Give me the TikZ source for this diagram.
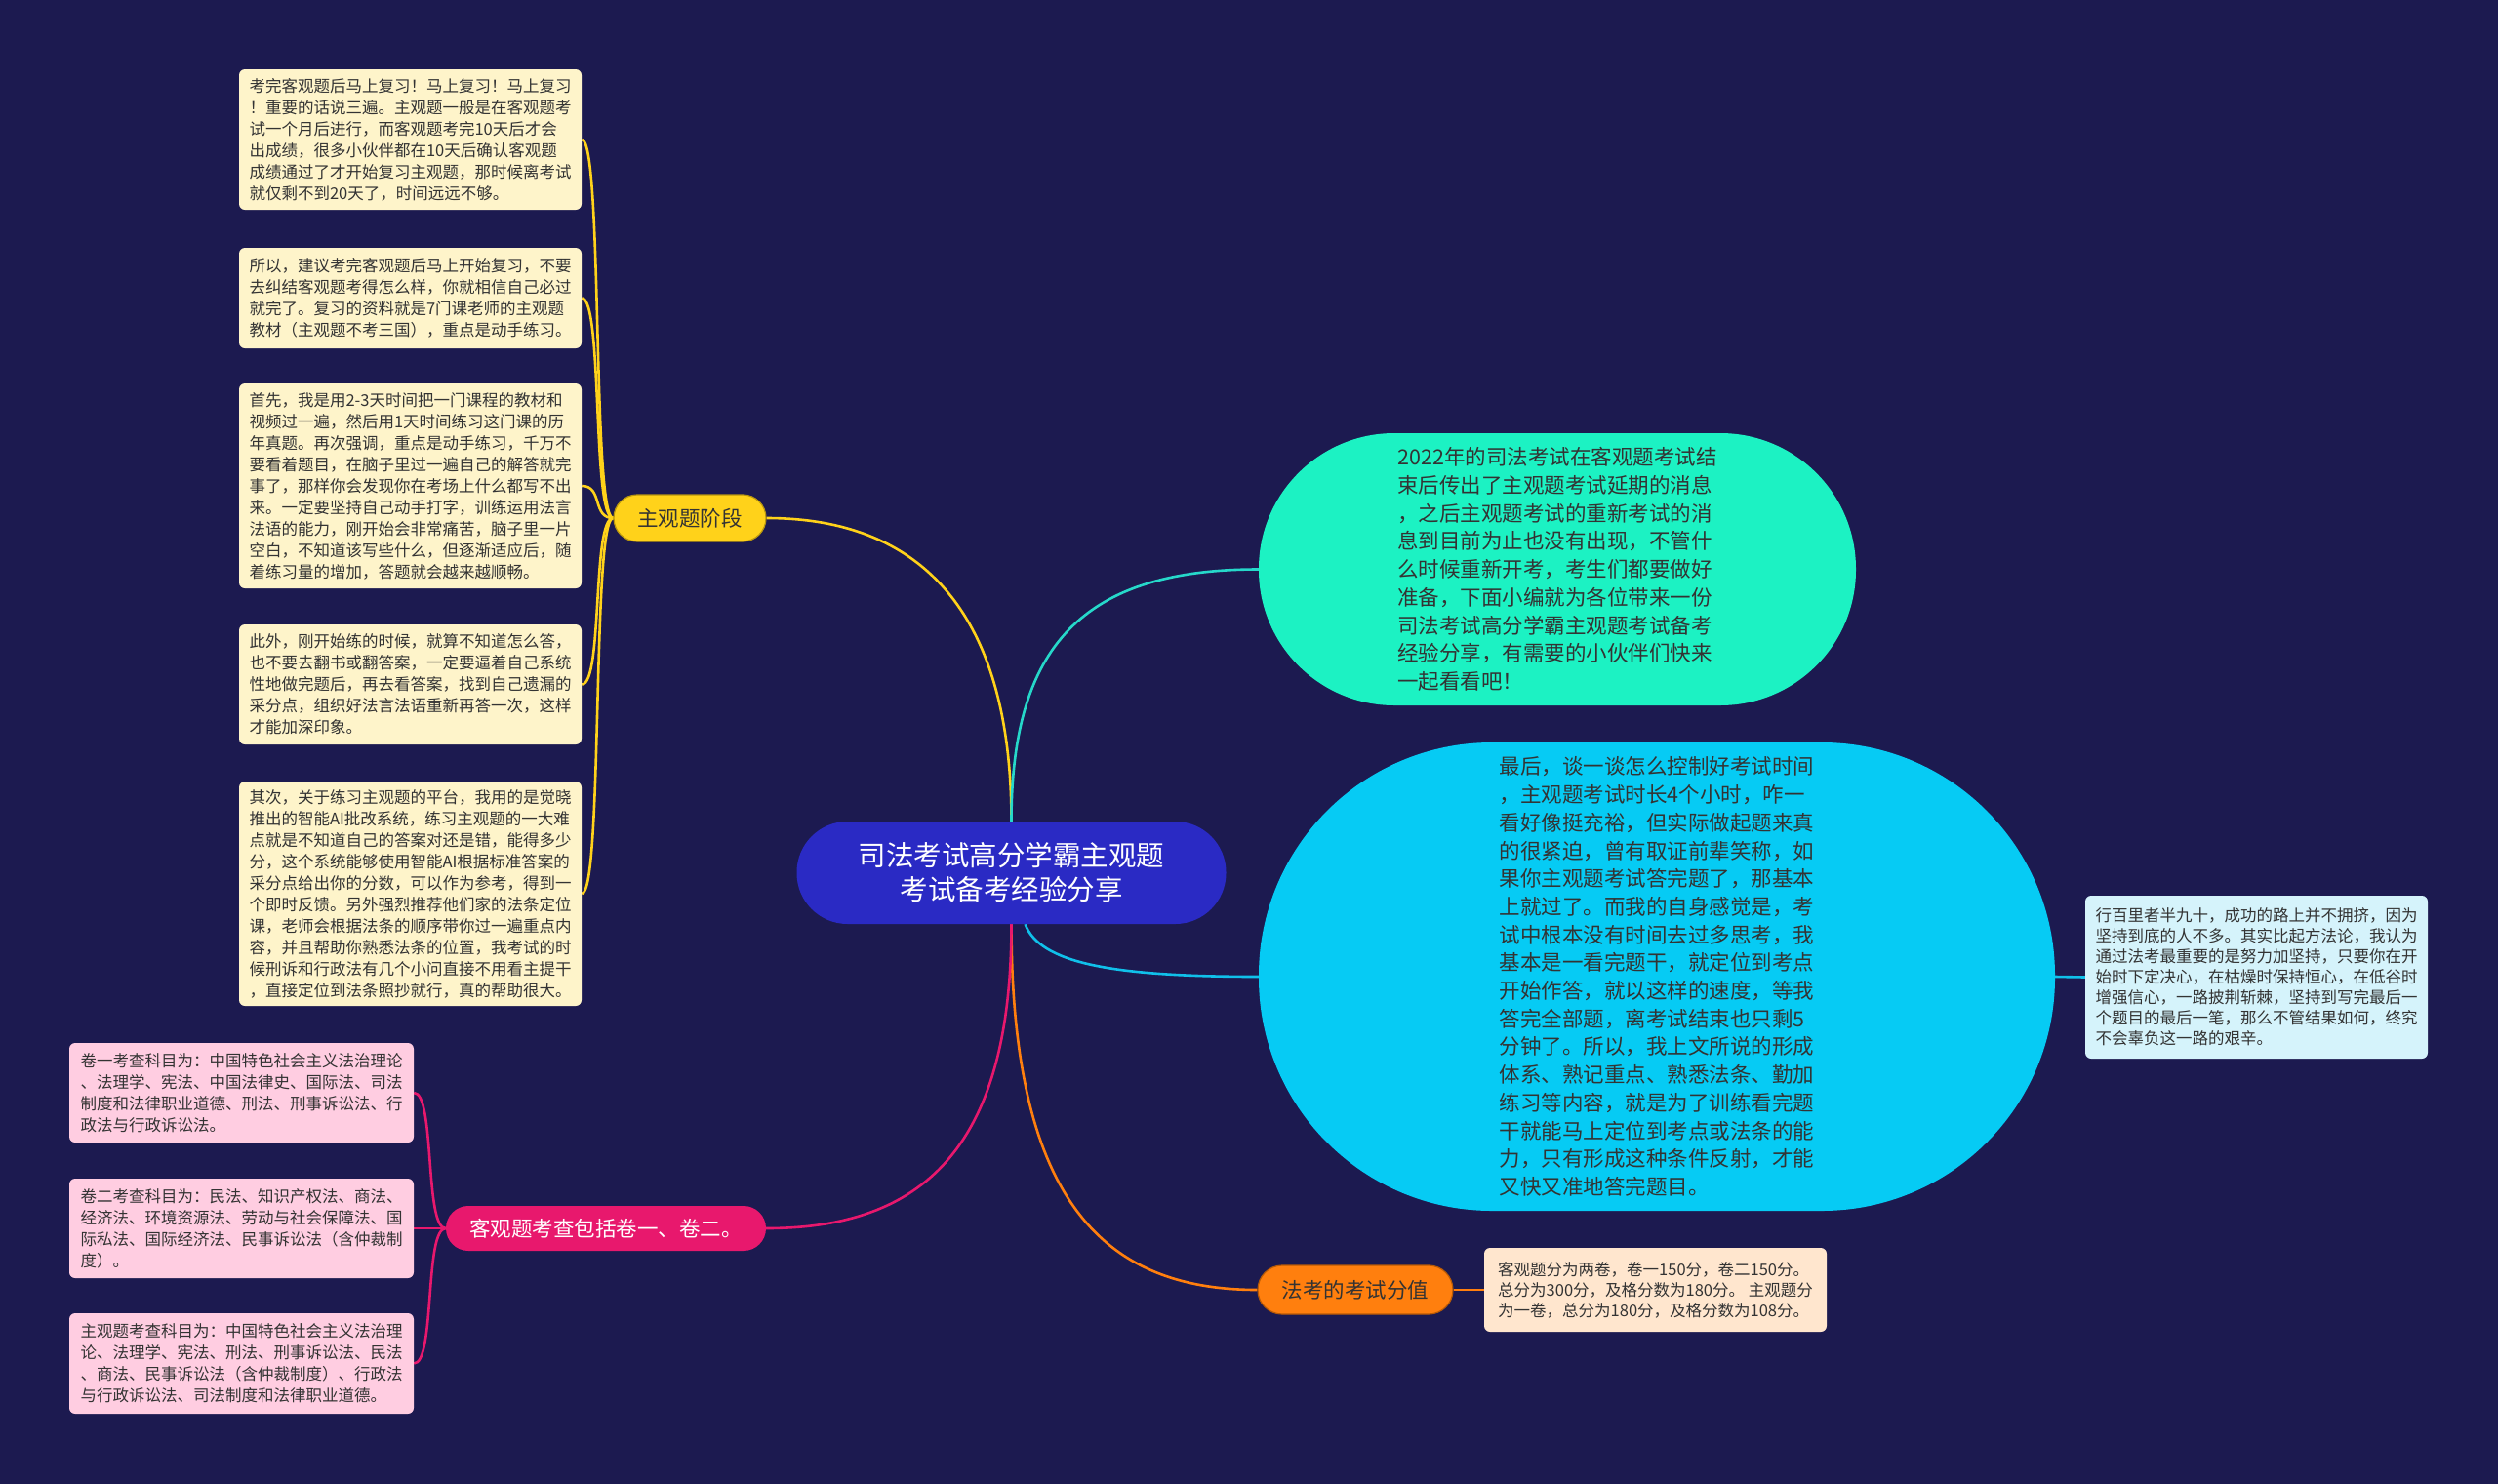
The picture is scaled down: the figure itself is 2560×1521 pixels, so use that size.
\documentclass[tikz,border=0pt]{standalone}
\usepackage{fontspec}
\newfontfamily\cjk{Noto Sans CJK SC}
\pgfdeclarelayer{bgl}
\pgfdeclarelayer{background}
\pgfsetlayers{bgl,background,main}
\definecolor{bg}{HTML}{1C1A50}
\definecolor{cbl}{HTML}{2A2AC4}
\definecolor{txt}{HTML}{333333}
\definecolor{ybr}{HTML}{FFD21A}
\definecolor{ybrd}{HTML}{B8960F}
\definecolor{ybox}{HTML}{FEF4CA}
\definecolor{ycol}{HTML}{FFD21A}
\definecolor{gfill}{HTML}{1CF2C3}
\definecolor{gcol}{HTML}{26D8CA}
\definecolor{bfill}{HTML}{06CBF4}
\definecolor{bcol}{HTML}{10C0EA}
\definecolor{rbox}{HTML}{D5F3FB}
\definecolor{obr}{HTML}{FF7F0E}
\definecolor{obrd}{HTML}{B85A05}
\definecolor{obox}{HTML}{FFE6CE}
\definecolor{pbr}{HTML}{E8186D}
\definecolor{pbox}{HTML}{FFCDE1}
\begin{document}
\begin{tikzpicture}[x=1pt,y=-1pt,
  every node/.style={font=\cjk},
  cline/.style={line width=2.6pt},
  leaf/.style={rounded corners=6pt, inner sep=0pt, align=left, text=txt,
    minimum width=351pt, font=\cjk\fontsize{16.5pt}{22pt}\selectfont},
  bubble/.style={inner sep=0pt, align=left, text=txt,
    font=\cjk\fontsize{21.5pt}{28.7pt}\selectfont},
  branch/.style={inner sep=0pt, align=center,
    font=\cjk\fontsize{21.5pt}{26pt}\selectfont}
]
\begin{pgfonlayer}{bgl}
\fill[bg] (0,0) rectangle (2560,1521);
\end{pgfonlayer}
\useasboundingbox (0,0) rectangle (2560,1521);

% center
\node[fill=cbl, minimum width=440pt, minimum height=105pt, rounded corners=52pt,
  inner sep=0pt, align=center, text=white,
  font=\cjk\fontsize{28.5pt}{35pt}\selectfont] (c) at (1036.5,894.5)
  {司法考试高分学霸主观题\\考试备考经验分享};

% branches
\node[branch, fill=ybr, draw=ybrd, line width=1.2pt, text=txt, minimum width=156pt,
  minimum height=48pt, rounded corners=24pt] (yb) at (707,531) {主观题阶段};
\node[branch, fill=pbr, text=white, minimum width=328pt,
  minimum height=46pt, rounded corners=23pt] (pk) at (621,1259) {客观题考查包括卷一、卷二。};
\node[branch, fill=obr, draw=obrd, line width=1.2pt, text=txt, minimum width=200pt,
  minimum height=50pt, rounded corners=25pt] (o) at (1389,1322) {法考的考试分值};

% bubbles
\node[bubble, fill=gfill, minimum width=612pt, minimum height=279pt,
  rounded corners=139pt] (g) at (1596,583.5) {2022年的司法考试在客观题考试结\\
束后传出了主观题考试延期的消息\\
，之后主观题考试的重新考试的消\\
息到目前为止也没有出现，不管什\\
么时候重新开考，考生们都要做好\\
准备，下面小编就为各位带来一份\\
司法考试高分学霸主观题考试备考\\
经验分享，有需要的小伙伴们快来\\
一起看看吧！};

\node[bubble, fill=bfill, minimum width=816pt, minimum height=480pt,
  rounded corners=239pt] (b) at (1698,1001) {最后，谈一谈怎么控制好考试时间\\
，主观题考试时长4个小时，咋一\\
看好像挺充裕，但实际做起题来真\\
的很紧迫，曾有取证前辈笑称，如\\
果你主观题考试答完题了，那基本\\
上就过了。而我的自身感觉是，考\\
试中根本没有时间去过多思考，我\\
基本是一看完题干，就定位到考点\\
开始作答，就以这样的速度，等我\\
答完全部题，离考试结束也只剩5\\
分钟了。所以，我上文所说的形成\\
体系、熟记重点、熟悉法条、勤加\\
练习等内容，就是为了训练看完题\\
干就能马上定位到考点或法条的能\\
力，只有形成这种条件反射，才能\\
又快又准地答完题目。};

% yellow leaves
\node[leaf, fill=ybox, minimum height=144pt] (y1) at (420.5,143) {考完客观题后马上复习！马上复习！马上复习\\
！重要的话说三遍。主观题一般是在客观题考\\
试一个月后进行，而客观题考完10天后才会\\
出成绩，很多小伙伴都在10天后确认客观题\\
成绩通过了才开始复习主观题，那时候离考试\\
就仅剩不到20天了，时间远远不够。};

\node[leaf, fill=ybox, minimum height=103pt] (y2) at (420.5,305.5) {所以，建议考完客观题后马上开始复习，不要\\
去纠结客观题考得怎么样，你就相信自己必过\\
就完了。复习的资料就是7门课老师的主观题\\
教材（主观题不考三国），重点是动手练习。};

\node[leaf, fill=ybox, minimum height=210pt] (y3) at (420.5,498) {首先，我是用2-3天时间把一门课程的教材和\\
视频过一遍，然后用1天时间练习这门课的历\\
年真题。再次强调，重点是动手练习，千万不\\
要看着题目，在脑子里过一遍自己的解答就完\\
事了，那样你会发现你在考场上什么都写不出\\
来。一定要坚持自己动手打字，训练运用法言\\
法语的能力，刚开始会非常痛苦，脑子里一片\\
空白，不知道该写些什么，但逐渐适应后，随\\
着练习量的增加，答题就会越来越顺畅。};

\node[leaf, fill=ybox, minimum height=123pt] (y4) at (420.5,701.5) {此外，刚开始练的时候，就算不知道怎么答，\\
也不要去翻书或翻答案，一定要逼着自己系统\\
性地做完题后，再去看答案，找到自己遗漏的\\
采分点，组织好法言法语重新再答一次，这样\\
才能加深印象。};

\node[leaf, fill=ybox, minimum height=230pt] (y5) at (420.5,916) {其次，关于练习主观题的平台，我用的是觉晓\\
推出的智能AI批改系统，练习主观题的一大难\\
点就是不知道自己的答案对还是错，能得多少\\
分，这个系统能够使用智能AI根据标准答案的\\
采分点给出你的分数，可以作为参考，得到一\\
个即时反馈。另外强烈推荐他们家的法条定位\\
课，老师会根据法条的顺序带你过一遍重点内\\
容，并且帮助你熟悉法条的位置，我考试的时\\
候刑诉和行政法有几个小问直接不用看主提干\\
，直接定位到法条照抄就行，真的帮助很大。};

% pink leaves
\node[leaf, fill=pbox, minimum width=353pt, minimum height=102pt] (p1) at (247.5,1120) {卷一考查科目为：中国特色社会主义法治理论\\
、法理学、宪法、中国法律史、国际法、司法\\
制度和法律职业道德、刑法、刑事诉讼法、行\\
政法与行政诉讼法。};

\node[leaf, fill=pbox, minimum width=353pt, minimum height=102pt] (p2) at (247.5,1259) {卷二考查科目为：民法、知识产权法、商法、\\
经济法、环境资源法、劳动与社会保障法、国\\
际私法、国际经济法、民事诉讼法（含仲裁制\\
度）。};

\node[leaf, fill=pbox, minimum width=353pt, minimum height=103pt] (p3) at (247.5,1397.5) {主观题考查科目为：中国特色社会主义法治理\\
论、法理学、宪法、刑法、刑事诉讼法、民法\\
、商法、民事诉讼法（含仲裁制度）、行政法\\
与行政诉讼法、司法制度和法律职业道德。};

% right leaf
\node[leaf, fill=rbox, minimum height=167pt,
  font=\cjk\fontsize{16.5pt}{21pt}\selectfont] (r) at (2312.5,1001.5) {行百里者半九十，成功的路上并不拥挤，因为\\
坚持到底的人不多。其实比起方法论，我认为\\
通过法考最重要的是努力加坚持，只要你在开\\
始时下定决心，在枯燥时保持恒心，在低谷时\\
增强信心，一路披荆斩棘，坚持到写完最后一\\
个题目的最后一笔，那么不管结果如何，终究\\
不会辜负这一路的艰辛。};

% bottom leaf
\node[leaf, fill=obox, minimum height=86pt,
  font=\cjk\fontsize{16.5pt}{21pt}\selectfont] (bot) at (1696.5,1322) {客观题分为两卷，卷一150分，卷二150分。\\
总分为300分，及格分数为180分。 主观题分\\
为一卷，总分为180分，及格分数为108分。};

% connectors
\begin{pgfonlayer}{background}
\draw[cline, ycol] (c.north) .. controls +(0,-200) and +(170,0) .. (yb.east);
\draw[cline, gcol] (c.north) .. controls +(0,-180) and +(-180,0) .. (g.west);
\draw[cline, bcol] (c.-75) .. controls +(15,40) and +(-150,0) .. (b.west);
\draw[cline, obr] (c.south) .. controls +(0,280) and +(-160,0) .. (o.west);
\draw[cline, pbr] (c.south) .. controls +(0,230) and +(160,0) .. (pk.east);
\foreach \n in {y1,y2,y3,y4,y5}
  \draw[cline, ycol] (yb.west) .. controls +(-22,0) and +(22,0) .. (\n.east);
\foreach \n in {p1,p2,p3}
  \draw[cline, pbr] (pk.west) .. controls +(-22,0) and +(22,0) .. (\n.east);
\draw[cline, obr] (o.east) -- (bot.west);
\draw[cline, bcol] (b.east) -- (r.west);
\end{pgfonlayer}
\end{tikzpicture}
\end{document}
